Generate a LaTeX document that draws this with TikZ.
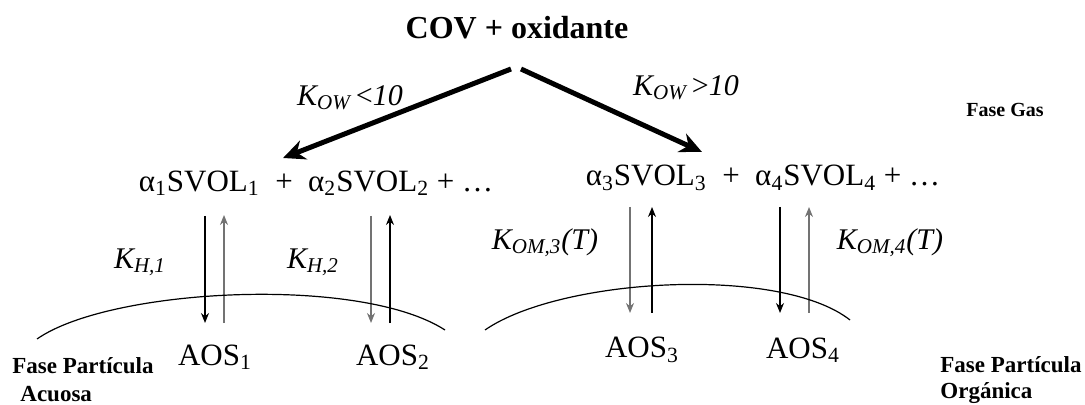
\documentclass[tikz,border=0pt]{standalone}
\usepackage{fontspec}
\setmainfont{Liberation Serif}
\usetikzlibrary{arrows.meta}
\begin{document}
\begin{tikzpicture}[x=0.5pt,y=-0.5pt,
  lbl/.style={inner sep=0pt,anchor=center},
  big/.style={font=\fontsize{15.5}{19}\selectfont},
  phase/.style={inner sep=0pt,anchor=west,font=\bfseries\fontsize{11.5}{13}\selectfont},
  kl/.style={inner sep=0pt,anchor=center,font=\itshape\fontsize{15}{18}\selectfont},
  thickarrow/.style={line width=2.5pt,-{Stealth[length=11pt,width=10pt]}},
  thinarrow/.style={line width=0.65pt,-{Stealth[length=5pt,width=4pt]}},
  blk/.style={draw=black},
  gry/.style={draw=black!55},
  arc/.style={line width=0.6pt}]
\useasboundingbox (0,0) rectangle (1085,405);

% top
\node[lbl,font=\bfseries\fontsize{16}{19}\selectfont] (cov) at (517,28) {COV + oxidante};
\coordinate (sl) at (511,69);
\coordinate (sr) at (521,69);
\coordinate (el) at (283,158);
\coordinate (er) at (702,152);
\draw[thickarrow] (sl) -- (el);
\draw[thickarrow] (sr) -- (er);
\node[kl] (kow1) at (350,98) {K\textsubscript{OW}\,{\upshape<}10};
\node[kl] (kow2) at (686,88) {K\textsubscript{OW}\,{\upshape>}10};
\node[lbl,font=\bfseries\fontsize{10}{12}\selectfont] (gas) at (1005,110) {Fase Gas};

% gas-phase products
\node[lbl,big] (row1) at (316,183) {α\textsubscript{1}SVOL\textsubscript{1}\ \ +\ \ α\textsubscript{2}SVOL\textsubscript{2} + …};
\node[lbl,big] (row2) at (763,178) {α\textsubscript{3}SVOL\textsubscript{3}\ \ +\ \ α\textsubscript{4}SVOL\textsubscript{4} + …};

% vertical arrows
\coordinate (a1t) at (205,216); \coordinate (a1b) at (205,323);
\coordinate (b1t) at (224,215); \coordinate (b1b) at (224,323);
\coordinate (a2t) at (371,216); \coordinate (a2b) at (371,323);
\coordinate (b2t) at (390,215); \coordinate (b2b) at (390,323);
\coordinate (a3t) at (630,207); \coordinate (a3b) at (630,313);
\coordinate (b3t) at (652,207); \coordinate (b3b) at (652,313);
\coordinate (a4t) at (780,207); \coordinate (a4b) at (780,313);
\coordinate (b4t) at (809,207); \coordinate (b4b) at (809,313);
\draw[thinarrow,blk] (a1t) -- (a1b);
\draw[thinarrow,gry] (b1b) -- (b1t);
\draw[thinarrow,gry] (a2t) -- (a2b);
\draw[thinarrow,blk] (b2b) -- (b2t);
\draw[thinarrow,gry] (a3t) -- (a3b);
\draw[thinarrow,blk] (b3b) -- (b3t);
\draw[thinarrow,blk] (a4t) -- (a4b);
\draw[thinarrow,gry] (b4b) -- (b4t);

\node[kl] (kh1) at (140,262) {K\textsubscript{H,1}};
\node[kl] (kh2) at (313,262) {K\textsubscript{H,2}};
\node[kl] (kom3) at (545,243) {K\textsubscript{OM,3}(T)};
\node[kl] (kom4) at (890,243) {K\textsubscript{OM,4}(T)};

% particle surfaces
\coordinate (p1a) at (37,339); \coordinate (p1b) at (445,330);
\coordinate (p2a) at (485,330); \coordinate (p2b) at (850,320);
\draw[arc] (p1a) .. controls (110,288) and (360,275) .. (p1b);
\draw[arc] (p2a) .. controls (560,278) and (780,265) .. (p2b);

% aerosol species
\node[lbl,big] (aos1) at (215,357) {AOS\textsubscript{1}};
\node[lbl,big] (aos2) at (393,357) {AOS\textsubscript{2}};
\node[lbl,big] (aos3) at (642,350) {AOS\textsubscript{3}};
\node[lbl,big] (aos4) at (803,350) {AOS\textsubscript{4}};

% phase labels
\node[phase] (fpa1) at (12,366) {Fase Partícula};
\node[phase] (fpa2) at (20,394) {Acuosa};
\node[phase] (fpo1) at (940,365) {Fase Partícula};
\node[phase] (fpo2) at (940,393) {Orgánica};
\end{tikzpicture}
\end{document}
